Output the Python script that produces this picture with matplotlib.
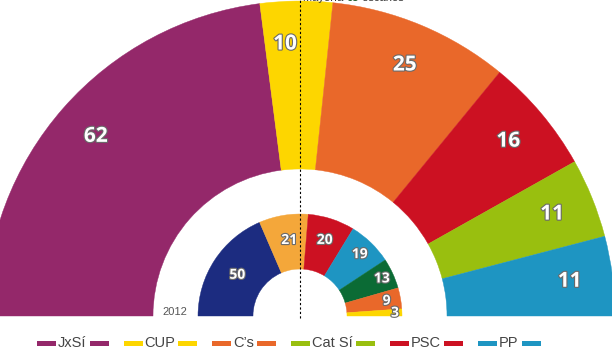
import numpy as np
import matplotlib
matplotlib.use("Agg")
import matplotlib.pyplot as plt
from matplotlib.patches import Wedge, Rectangle
import matplotlib.patheffects as pe

# 2015 parliament (outer ring)
parties_2015 = ["JxSí", "CUP", "C's", "PSC", "Cat Sí", "PP"]
seats_2015 = [62, 10, 25, 16, 11, 11]
colors_2015 = ["#94286A", "#FDD600", "#E9682A", "#CC1122", "#99BF0F", "#1E95C2"]

# 2012 parliament (inner ring)
parties_2012 = ["CiU", "ERC", "PSC", "PP", "ICV", "C's", "CUP"]
seats_2012 = [50, 21, 20, 19, 13, 9, 3]
colors_2012 = ["#1C2C80", "#F4A73A", "#CC1122", "#1E95C2", "#0B6B35", "#E9682A", "#FDD600"]

legend_names = ["JxSí", "CUP", "C\u2019s", "Cat Sí", "PSC", "PP"]
legend_colors = ["#94286A", "#FDD600", "#E9682A", "#99BF0F", "#CC1122", "#1E95C2"]

SANS = ["Liberation Sans", "DejaVu Sans"]
NUMFONT = ["Open Sans", "DejaVu Sans"]


def draw_ring(ax, seats, colors, r_out, r_in, label_r, fontsize):
    total = float(sum(seats))
    start = 180.0
    for i, (v, c) in enumerate(zip(seats, colors)):
        span = v / total * 180.0
        end = start - span
        ax.add_patch(Wedge((0, 0), r_out, end, start, width=r_out - r_in,
                           facecolor=c, edgecolor=c, lw=0.3, zorder=2))
        mid = np.radians((start + end) / 2)
        r = label_r[i] if hasattr(label_r, "__len__") else label_r
        x, y = r * np.cos(mid), r * np.sin(mid)
        ha = "center"
        # keep labels off the majority line
        if abs(x) < 15:
            ha = "right" if x <= 0 else "left"
            x = -3 if x <= 0 else 3
        t = ax.text(x, y, str(v), ha=ha, va="center", color="white",
                    fontsize=fontsize, fontweight="bold", family=NUMFONT, zorder=4)
        t.set_path_effects([pe.withStroke(linewidth=1.6, foreground="#6a6a6a")])
        start = end


fig = plt.figure(figsize=(6.12, 3.52), dpi=100)
ax = fig.add_axes([0, 0, 1, 1])
ax.set_xlim(-300, 312)
ax.set_ylim(-36, 316)
ax.axis("off")

draw_ring(ax, seats_2015, colors_2015, 315, 147, 272, 15)
draw_ring(ax, seats_2012, colors_2012, 102, 47, [75, 77, 80, 86, 90, 88, 95], 10)

# majority line
ax.plot([0, 0], [-2, 320], color="black", lw=0.8, ls=(0, (2, 2)), zorder=5)

ax.text(-125, 4, "2012", ha="center", va="center", fontsize=8,
        color="#555555", family=SANS)

fig.canvas.draw()
renderer = fig.canvas.get_renderer()


def text_width(t):
    return t.get_window_extent(renderer=renderer).width


# majority label, cut by the top edge as in the original crop
x = 3
for piece, col, w in [("Mayoría ", "#333333", "normal"), ("68", "#1f5e2e", "bold"),
                      (" escaños", "#333333", "normal")]:
    t = ax.text(x, 315, piece, ha="left", va="baseline", fontsize=8,
                color=col, fontweight=w, family=SANS)
    x += text_width(t)

# legend: bar, name, bar
x = -263
ly = -27
bw, bh = 19, 5
for name, col in zip(legend_names, legend_colors):
    ax.add_patch(Rectangle((x, ly - bh / 2), bw, bh, facecolor=col, edgecolor="none"))
    x += bw + 2
    t = ax.text(x, ly, name, ha="left", va="center", fontsize=10.5,
                color="#444444", family=SANS)
    x += text_width(t) + 3
    ax.add_patch(Rectangle((x, ly - bh / 2), bw, bh, facecolor=col, edgecolor="none"))
    x += bw + 15

fig.savefig("out.png", dpi=100, facecolor="white")
